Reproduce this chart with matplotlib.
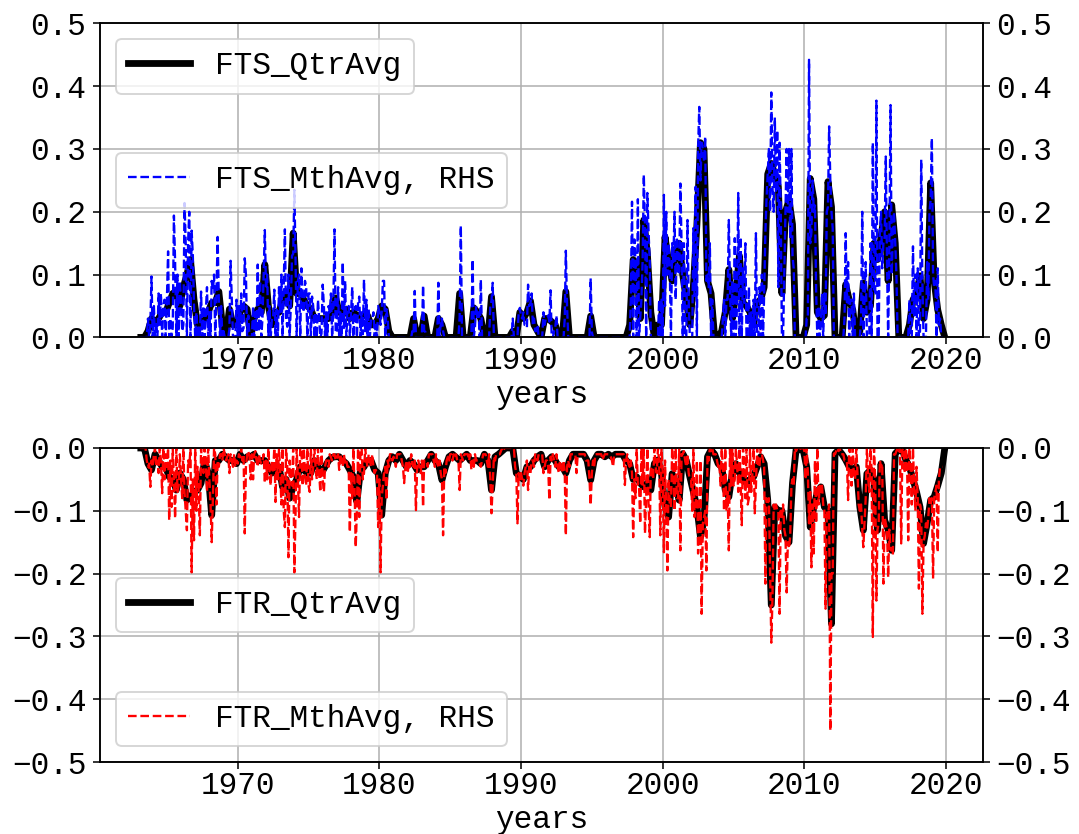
import pandas as pd
import matplotlib
matplotlib.use('Agg')
import matplotlib.pyplot as plt
import matplotlib.dates as mdates

plt.rcParams['font.family'] = 'Liberation Mono'
plt.rcParams['font.size'] = 16

# quarterly averages, one row per year starting 1963 (Q1..Q4)
fts_qtr = [
    0, 0, 0.01, 0.03,
    0.025, 0.03, 0.04, 0.04,
    0.055, 0.07, 0.073, 0.05,
    0.08, 0.1, 0.124, 0.06,
    0.02, 0.024, 0.03, 0.04,
    0.055, 0.055, 0.073, 0.02,
    0.0, 0.045, 0.02, 0.02,
    0.04, 0.05, 0.045, 0.0,
    0.03, 0.045, 0.04, 0.116,
    0.05, 0.02, 0.04, 0.04,
    0.06, 0.073, 0.05, 0.166,
    0.07, 0.07, 0.06, 0.05,
    0.045, 0.03, 0.03, 0.03,
    0.03, 0.03, 0.04, 0.063,
    0.04, 0.045, 0.045, 0.03,
    0.04, 0.035, 0.035, 0.035,
    0.035, 0.02, 0.02, 0.03,
    0.05, 0.045, 0.01, 0.0,
    0, 0, 0, 0,
    0, 0.03, 0, 0,
    0.034, 0, 0, 0,
    0.03, 0.02, 0, 0,
    0, 0, 0.07, 0,
    0, 0, 0.047, 0.04,
    0.03, 0, 0, 0.065,
    0, 0, 0, 0,
    0, 0.01, 0, 0.04,
    0.03, 0.04, 0.058, 0.02,
    0.01, 0, 0.03, 0.03,
    0.025, 0.02, 0, 0,
    0.073, 0, 0, 0,
    0, 0, 0, 0.034,
    0, 0, 0, 0,
    0, 0, 0, 0,
    0, 0, 0.02, 0.124,
    0.113, 0.03, 0.187, 0.134,
    0.04, 0, 0.02, 0.02,
    0.16, 0.12, 0.09, 0.14,
    0.15, 0.1, 0.06, 0.02,
    0.08, 0.18, 0.31, 0.30,
    0.09, 0.07, 0, 0,
    0.01, 0.04, 0.108, 0.03,
    0.07, 0.13, 0.055, 0.05,
    0.04, 0.02, 0.055, 0.06,
    0.08, 0.26, 0.277, 0.26,
    0.24, 0.07, 0.2, 0.219,
    0.18, 0, 0, 0,
    0.02, 0.253, 0.22, 0.04,
    0.03, 0.035, 0.248, 0.208,
    0, 0, 0, 0.084,
    0.06, 0.044, 0, 0.01,
    0.087, 0.04, 0.05, 0.15,
    0.124, 0.16, 0.2, 0.09,
    0.211, 0.15, 0, 0,
    0, 0.02, 0.06, 0.07,
    0.098, 0.03, 0.06, 0.246,
    0.09, 0.044, 0.02, 0.0,
]

ftr_qtr = [
    0, 0, -0.025, -0.035,
    -0.01, -0.02, -0.03, -0.03,
    -0.046, -0.05, -0.067, -0.04,
    -0.05, -0.083, -0.078, -0.07,
    -0.067, -0.056, -0.02, -0.04,
    -0.107, -0.02, -0.02, -0.01,
    -0.015, -0.02, -0.02, -0.025,
    -0.01, -0.02, -0.014, -0.014,
    -0.01, -0.02, -0.02, -0.02,
    -0.03, -0.04, -0.03, -0.03,
    -0.062, -0.05, -0.08, -0.062,
    -0.05, -0.03, -0.035, -0.04,
    -0.04, -0.02, -0.03, -0.04,
    -0.03, -0.02, -0.015, -0.014,
    -0.014, -0.02, -0.025, -0.035,
    -0.046, -0.086, -0.035, -0.03,
    -0.02, -0.02, -0.035, -0.04,
    -0.107, -0.04, -0.02, -0.014,
    -0.02, -0.01, -0.02, -0.03,
    -0.02, -0.025, -0.035, -0.03,
    -0.03, -0.02, -0.01, -0.02,
    -0.025, -0.051, -0.03, -0.014,
    -0.01, -0.015, -0.02, -0.015,
    -0.01, -0.02, -0.02, -0.02,
    -0.025, -0.01, -0.02, -0.067,
    -0.014, -0.01, -0.005, 0.0,
    0, 0, -0.04, -0.045,
    -0.05, -0.03, -0.03, -0.02,
    -0.014, -0.01, -0.03, -0.02,
    -0.014, -0.02, -0.03, -0.03,
    -0.04, -0.02, -0.01, -0.01,
    -0.01, -0.01, -0.02, -0.051,
    -0.02, -0.01, -0.01, -0.014,
    -0.01, -0.014, -0.01, -0.01,
    -0.01, -0.02, -0.025, -0.05,
    -0.046, -0.056, -0.062, -0.056,
    -0.067, -0.025, -0.019, -0.041,
    -0.094, -0.11, -0.041, -0.06,
    -0.083, -0.009, -0.02, -0.046,
    -0.07, -0.094, -0.142, -0.115,
    -0.014, -0.003, -0.01, -0.025,
    -0.03, -0.067, -0.078, -0.04,
    -0.025, -0.04, -0.046, -0.056,
    -0.05, -0.046, -0.03, -0.014,
    -0.025, -0.083, -0.25, -0.094,
    -0.1, -0.1, -0.14, -0.15,
    -0.056, -0.003, -0.003, -0.003,
    -0.03, -0.126, -0.094, -0.07,
    -0.062, -0.094, -0.1, -0.28,
    -0.009, -0.003, -0.01, -0.019,
    -0.03, -0.035, -0.03, -0.094,
    -0.131, -0.041, -0.035, -0.05,
    -0.131, -0.025, -0.115, -0.13,
    -0.163, -0.009, -0.003, -0.003,
    -0.019, -0.03, -0.05, -0.07,
    -0.094, -0.152, -0.12, -0.083,
    -0.078, -0.06, -0.04, 0.0,
]

# monthly averages, one row per year starting 1963 (Jan..Dec), last row to Sep 2019
fts_mth = [
    0, 0, 0, 0, 0, 0, 0, 0.03, 0, 0.02, 0.097, 0,
    0.05, 0, 0.025, 0.0, 0.07, 0.02, 0.07, 0.0, 0.05, 0.06, 0.0, 0.06,
    0.137, 0, 0.03, 0.0, 0.016, 0.194, 0.12, 0.0, 0.1, 0.0, 0.09, 0.06,
    0.01, 0.02, 0.214, 0.15, 0.0, 0.15, 0.2, 0.0, 0.17, 0.13, 0.05, 0.0,
    0.04, 0.0, 0.02, 0.0, 0.073, 0.0, 0.05, 0.0, 0.04, 0.08, 0.0, 0.04,
    0.0, 0.09, 0.075, 0.1, 0.0, 0.065, 0.16, 0.06, 0.0, 0.05, 0.0, 0.01,
    0, 0, 0, 0.0, 0.013, 0.122, 0.06, 0.0, 0.0, 0.0, 0.06, 0.0,
    0.05, 0.0, 0.07, 0.01, 0.015, 0.126, 0.1, 0.0, 0.035, 0, 0, 0,
    0.05, 0.0, 0.04, 0.01, 0.116, 0.01, 0.09, 0.0, 0.03, 0.1, 0.171, 0.077,
    0.1, 0.0, 0.05, 0.0, 0.03, 0.03, 0.076, 0.0, 0.044, 0.0, 0.08, 0.04,
    0.1, 0.0, 0.08, 0.172, 0.03, 0.017, 0.1, 0.0, 0.05, 0.13, 0.133, 0.235,
    0.12, 0.0, 0.09, 0.1, 0.0, 0.11, 0.05, 0.04, 0.09, 0.08, 0.0, 0.07,
    0.07, 0.0, 0.065, 0.05, 0.0, 0.04, 0.0, 0.06, 0.03, 0.0, 0.006, 0.084,
    0.05, 0.0, 0.04, 0.0, 0.05, 0.04, 0.07, 0.0, 0.05, 0.172, 0.01, 0.007,
    0.08, 0.0, 0.04, 0.0, 0.12, 0.015, 0.09, 0.0, 0.045, 0.05, 0.0, 0.04,
    0.08, 0.0, 0.04, 0.05, 0.0, 0.055, 0.065, 0.0, 0.04, 0.005, 0.092, 0.008,
    0.06, 0.0, 0.045, 0.0, 0.03, 0.03, 0.04, 0.0, 0.02, 0.0, 0.05, 0.04,
    0.02, 0.04, 0.09, 0.09, 0.0, 0.045, 0.03, 0.0, 0.0, 0, 0, 0,
    0, 0, 0, 0, 0, 0, 0, 0, 0, 0, 0, 0,
    0, 0, 0, 0.01, 0.006, 0.074, 0, 0, 0, 0, 0, 0,
    0.083, 0.01, 0.009, 0, 0, 0, 0, 0, 0, 0, 0, 0,
    0.0, 0.087, 0.003, 0.02, 0.03, 0.01, 0, 0, 0, 0, 0, 0,
    0, 0, 0, 0, 0, 0, 0.0, 0.032, 0.178, 0, 0, 0,
    0, 0, 0, 0, 0, 0, 0.124, 0.0, 0.017, 0.05, 0.03, 0.04,
    0.0, 0.092, 0.0, 0, 0, 0, 0, 0, 0, 0.05, 0.058, 0.087,
    0, 0, 0, 0, 0, 0, 0, 0, 0, 0, 0, 0,
    0, 0, 0, 0, 0.03, 0, 0, 0, 0, 0.04, 0.047, 0.033,
    0.03, 0.04, 0.02, 0.02, 0.016, 0.084, 0.05, 0.054, 0.07, 0.02, 0.03, 0.01,
    0.01, 0.02, 0.0, 0, 0, 0, 0.04, 0.02, 0.03, 0.03, 0.035, 0.025,
    0.075, 0.0, 0.0, 0.01, 0.015, 0.035, 0, 0, 0, 0, 0, 0,
    0.03, 0.138, 0.05, 0, 0, 0, 0, 0, 0, 0, 0, 0,
    0, 0, 0, 0, 0, 0, 0, 0, 0, 0.0, 0.094, 0.008,
    0, 0, 0, 0, 0, 0, 0, 0, 0, 0, 0, 0,
    0, 0, 0, 0, 0, 0, 0, 0, 0, 0, 0, 0,
    0, 0, 0, 0, 0, 0, 0, 0, 0.06, 0.216, 0.0, 0.156,
    0.12, 0.0, 0.22, 0.0, 0.03, 0.06, 0.12, 0.259, 0.18, 0.0, 0.23, 0.17,
    0.12, 0.0, 0.0, 0, 0, 0, 0, 0, 0.06, 0.0, 0.06, 0.0,
    0.227, 0.05, 0.2, 0.1, 0.15, 0.11, 0.0, 0.15, 0.12, 0.2, 0.06, 0.16,
    0.1, 0.105, 0.245, 0.15, 0.0, 0.15, 0.0, 0.0, 0.187, 0.06, 0.0, 0.0,
    0.0, 0.174, 0.066, 0.24, 0.0, 0.3, 0.367, 0.25, 0.31, 0.3, 0.28, 0.32,
    0.09, 0.1, 0.08, 0.15, 0.0, 0.06, 0, 0, 0, 0, 0, 0,
    0, 0, 0.03, 0.06, 0.0, 0.06, 0.06, 0.187, 0.077, 0.0, 0.09, 0.0,
    0.158, 0.0, 0.052, 0.23, 0.0, 0.16, 0.0, 0.11, 0.055, 0.15, 0.0, 0.0,
    0.08, 0.0, 0.04, 0.0, 0.06, 0.0, 0.166, 0.0, 0.0, 0.08, 0.0, 0.1,
    0.0, 0.07, 0.166, 0.22, 0.26, 0.3, 0.2, 0.39, 0.24, 0.2, 0.35, 0.23,
    0.33, 0.08, 0.31, 0.21, 0.0, 0.0, 0.1, 0.2, 0.3, 0.2, 0.3, 0.157,
    0.3, 0.13, 0.11, 0, 0, 0, 0, 0, 0, 0, 0, 0,
    0.0, 0.03, 0.03, 0.442, 0.15, 0.167, 0.25, 0.2, 0.21, 0.07, 0.0, 0.05,
    0.0, 0.02, 0.07, 0.0, 0.07, 0.035, 0.2, 0.208, 0.336, 0.25, 0.2, 0.174,
    0, 0, 0, 0, 0, 0, 0, 0, 0, 0.03, 0.166, 0.056,
    0.12, 0.0, 0.06, 0.06, 0.0, 0.07, 0, 0, 0, 0, 0, 0.03,
    0.2, 0.0, 0.06, 0.12, 0.0, 0.0, 0.0, 0.15, 0.0, 0.31, 0.07, 0.07,
    0.377, 0.0, 0.0, 0.17, 0.2, 0.11, 0.15, 0.16, 0.288, 0.12, 0.0, 0.15,
    0.37, 0.1, 0.163, 0.2, 0.15, 0.1, 0, 0, 0, 0, 0, 0,
    0, 0, 0, 0.0, 0.06, 0.0, 0.0, 0.145, 0.035, 0.1, 0.0, 0.11,
    0.0, 0.01, 0.283, 0.09, 0.0, 0.0, 0.0, 0.12, 0.06, 0.2, 0.22, 0.317,
    0.1, 0.08, 0.09, 0.0, 0.11, 0.02, 0.03, 0.0, 0.0,
]

ftr_mth = [
    0, 0, 0, 0, 0, 0, -0.02, -0.03, -0.025, -0.062, -0.02, -0.03,
    -0.01, 0.0, -0.03, -0.02, -0.04, 0.0, -0.02, -0.072, 0.0, -0.05, -0.01, -0.03,
    0.0, -0.115, -0.02, -0.094, 0.0, -0.05, -0.112, 0.0, -0.07, -0.06, -0.01, -0.05,
    -0.08, 0.0, -0.07, -0.1, -0.131, -0.02, -0.03, 0.0, -0.198, -0.05, -0.147, 0.0,
    -0.1, -0.03, -0.07, -0.139, 0.0, -0.03, -0.04, 0.0, -0.02, -0.07, 0.0, -0.05,
    -0.09, -0.15, -0.08, 0.0, -0.01, -0.09, -0.02, -0.03, -0.01, -0.01, -0.02, 0.0,
    -0.01, -0.02, -0.015, -0.01, -0.04, -0.01, -0.02, -0.03, -0.01, -0.03, -0.02, -0.025,
    -0.01, -0.015, 0.0, -0.02, -0.01, -0.136, -0.03, -0.01, -0.005, -0.014, -0.05, -0.01,
    -0.05, -0.01, -0.005, -0.02, -0.03, -0.01, -0.02, -0.025, -0.02, -0.01, -0.056, -0.02,
    -0.05, 0.0, -0.04, -0.06, -0.02, -0.04, 0.0, -0.086, -0.01, -0.05, 0.0, -0.04,
    -0.09, 0.0, -0.1, -0.126, 0.0, -0.03, -0.174, -0.02, -0.05, -0.06, 0.0, -0.198,
    -0.1, 0.0, -0.05, -0.11, 0.0, 0.0, -0.06, 0.0, -0.045, -0.06, 0.0, -0.06,
    -0.07, 0.0, -0.05, -0.03, 0.0, -0.03, -0.05, 0.0, -0.04, -0.07, 0.0, -0.05,
    -0.07, -0.03, -0.02, -0.02, -0.03, -0.01, -0.015, -0.02, -0.01, -0.01, -0.02, -0.014,
    -0.01, -0.035, -0.01, -0.02, -0.03, -0.01, -0.025, -0.02, -0.03, -0.03, -0.134, -0.04,
    -0.08, 0.0, -0.06, -0.158, -0.1, 0.0, -0.11, 0.0, -0.0, -0.05, -0.04, 0.0,
    -0.02, -0.03, -0.01, -0.02, -0.03, -0.01, -0.03, -0.04, -0.035, -0.04, -0.126, -0.05,
    -0.198, -0.08, -0.06, -0.04, -0.03, -0.083, -0.02, -0.03, -0.01, -0.01, -0.02, -0.014,
    -0.02, -0.03, -0.01, -0.01, -0.01, -0.01, -0.02, -0.03, -0.056, -0.03, -0.02, -0.04,
    -0.02, -0.03, -0.01, -0.025, -0.03, -0.02, -0.099, -0.03, -0.02, -0.03, -0.04, -0.02,
    -0.094, -0.02, -0.02, -0.02, -0.03, -0.01, -0.01, -0.01, -0.01, -0.02, -0.03, -0.01,
    -0.025, -0.03, -0.02, -0.04, -0.05, -0.139, -0.03, -0.04, -0.02, -0.014, -0.02, -0.01,
    -0.01, -0.02, -0.01, -0.015, -0.01, -0.02, -0.02, -0.067, -0.01, -0.015, -0.02, -0.01,
    -0.01, -0.01, -0.01, -0.02, -0.01, -0.035, -0.02, -0.03, -0.01, -0.02, -0.02, -0.02,
    -0.025, -0.03, -0.02, -0.01, -0.01, -0.01, -0.02, -0.03, -0.01, -0.05, -0.104, -0.06,
    -0.014, -0.02, -0.01, -0.01, -0.01, -0.01, -0.005, 0.0, -0.005, 0.0, 0.0, 0.0,
    0.0, 0.0, 0.0, 0.0, 0.0, 0.0, -0.03, -0.04, -0.12, -0.04, -0.05, -0.04,
    -0.05, -0.06, -0.04, -0.03, -0.02, -0.067, -0.03, -0.04, -0.02, -0.02, -0.03, -0.01,
    -0.014, -0.02, -0.01, -0.01, -0.01, -0.01, -0.04, -0.03, -0.02, -0.02, -0.03, -0.083,
    -0.014, -0.02, -0.01, -0.02, -0.03, -0.01, -0.03, -0.04, -0.02, -0.03, -0.04, -0.02,
    -0.04, -0.139, -0.03, -0.02, -0.03, -0.01, -0.01, -0.01, -0.01, -0.01, -0.04, -0.01,
    -0.01, -0.01, -0.01, -0.01, -0.01, -0.01, -0.02, -0.02, -0.02, -0.05, -0.091, -0.04,
    -0.02, -0.03, -0.01, -0.01, -0.01, -0.01, -0.01, -0.01, -0.019, -0.014, -0.01, -0.01,
    -0.01, -0.01, -0.01, -0.014, -0.02, -0.03, -0.01, -0.01, -0.01, -0.01, -0.01, -0.01,
    -0.01, -0.01, -0.01, -0.059, -0.02, -0.01, -0.025, -0.03, -0.02, -0.04, -0.142, -0.05,
    -0.08, 0.0, -0.06, -0.06, -0.12, 0.0, -0.06, 0.0, -0.136, -0.08, 0.0, -0.09,
    -0.142, -0.03, -0.03, -0.05, 0.0, -0.03, -0.04, 0.0, -0.02, -0.139, 0.0, -0.04,
    -0.166, -0.02, -0.1, -0.195, -0.05, -0.09, -0.094, 0.0, -0.03, -0.1, 0.0, -0.08,
    -0.08, 0.0, -0.163, -0.01, -0.01, -0.005, -0.02, -0.03, -0.01, -0.04, -0.05, -0.05,
    -0.1, 0.0, -0.11, -0.09, -0.02, -0.168, -0.14, -0.02, -0.264, -0.12, -0.11, -0.1,
    -0.195, -0.01, -0.02, 0.0, -0.005, 0.0, -0.01, -0.01, -0.01, -0.02, -0.03, -0.025,
    -0.06, 0.0, -0.03, -0.1, 0.0, -0.1, -0.07, -0.163, 0.0, -0.06, 0.0, -0.06,
    -0.05, 0.0, -0.025, -0.07, 0.0, -0.05, -0.123, 0.0, -0.02, -0.08, 0.0, -0.09,
    -0.08, 0.0, -0.07, -0.04, 0.0, -0.104, -0.06, 0.0, -0.03, -0.03, 0.0, -0.01,
    -0.02, -0.03, -0.216, -0.08, -0.09, -0.08, -0.2, -0.31, -0.24, -0.09, -0.1, -0.09,
    -0.1, -0.1, -0.264, -0.1, -0.11, -0.09, -0.13, -0.14, -0.23, -0.15, -0.16, -0.14,
    -0.06, -0.05, -0.06, 0.0, -0.005, 0.0, 0.0, -0.005, 0.0, 0.0, 0.0, -0.005,
    -0.05, 0.0, -0.04, -0.12, -0.07, -0.19, -0.09, -0.168, -0.02, -0.12, 0.0, -0.09,
    -0.06, -0.07, -0.06, -0.09, -0.1, -0.256, -0.1, -0.11, -0.09, -0.45, -0.2, -0.2,
    -0.009, -0.01, -0.005, 0.0, -0.005, 0.0, -0.01, -0.01, -0.01, -0.02, -0.02, -0.02,
    -0.083, 0.0, -0.01, -0.06, 0.0, -0.045, -0.05, 0.0, -0.04, -0.09, -0.1, -0.09,
    -0.13, -0.158, -0.12, -0.08, 0.0, -0.045, -0.07, 0.0, -0.035, -0.301, 0.0, -0.05,
    -0.243, -0.13, -0.12, -0.02, -0.03, -0.025, -0.216, -0.11, -0.12, -0.13, -0.206, -0.13,
    -0.163, -0.16, -0.17, -0.01, -0.01, -0.005, 0.0, -0.005, 0.0, -0.152, -0.003, 0.0,
    -0.04, 0.0, -0.02, -0.147, 0.0, -0.03, -0.09, 0.0, -0.06, -0.1, -0.03, -0.08,
    -0.224, -0.09, -0.1, -0.264, -0.15, -0.14, -0.12, -0.13, -0.11, -0.08, -0.09, -0.08,
    -0.208, -0.08, -0.07, -0.06, -0.166, -0.05, -0.03, -0.03, -0.03,
]

qtr_dates = pd.date_range('1963-02-28', periods=len(fts_qtr), freq='3ME')
mth_dates = pd.date_range('1963-01-31', periods=len(fts_mth), freq='ME')

fig, axes = plt.subplots(2, 1, figsize=(1079 / 140, 834 / 140), dpi=140)
fig.subplots_adjust(left=0.0927, right=0.9108, top=0.972, bottom=0.0863, hspace=0.352)

panels = [
    (fts_qtr, fts_mth, 'FTS', 'b', (0, 0.5), 'upper left', 'center left'),
    (ftr_qtr, ftr_mth, 'FTR', 'r', (-0.5, 0), 'center left', 'lower left'),
]

for ax, (qtr, mth, name, col, ylim, loc1, loc2) in zip(axes, panels):
    ax.plot(qtr_dates, qtr, 'k-', lw=3.5, label=name + '_QtrAvg')
    ax.set_ylim(ylim)
    ax.grid(True)
    ax.legend(loc=loc1)
    # monthly series on the right hand scale
    ax2 = ax.twinx()
    ax2.plot(mth_dates, mth, col + '--', lw=1.2, label=name + '_MthAvg, RHS')
    ax2.set_ylim(ylim)
    ax2.legend(loc=loc2)
    ax.set_xlabel('years', labelpad=2)
    ax.tick_params(axis='x', pad=1)
    ax.xaxis.set_major_locator(mdates.YearLocator(10))
    ax.xaxis.set_major_formatter(mdates.DateFormatter('%Y'))
    ax.set_xlim(pd.Timestamp('1960-04-12'), pd.Timestamp('2022-08-04'))

plt.savefig('out.png', dpi=140)
